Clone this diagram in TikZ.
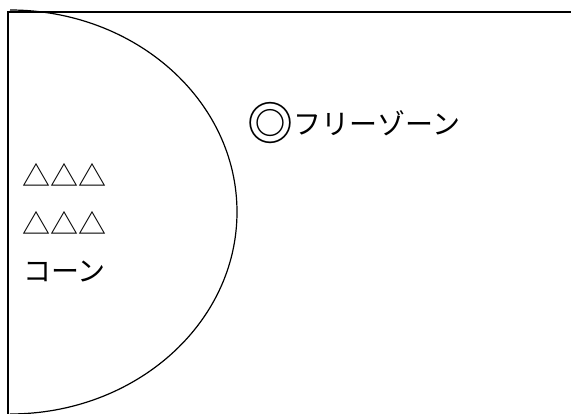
\documentclass[tikz,border=0pt]{standalone}
\usepackage{fontspec}
\newfontfamily\jpfont{Noto Sans CJK JP}
\usetikzlibrary{positioning}
\begin{document}
\begin{tikzpicture}[x=1pt,y=-1pt,
  jptext/.style={font=\jpfont\fontsize{28}{34}\selectfont, inner sep=0pt, anchor=west},
  bigsym/.style={font=\jpfont\fontsize{46}{52}\selectfont, inner sep=0pt, anchor=west},
  frameline/.style={line width=2pt},
  zoneline/.style={line width=1.2pt}
]
\useasboundingbox (0,0) rectangle (571,414);
% Frame
\draw[frameline] (8,414) -- (8,12) -- (571,12);
% Zone boundary
\draw[zoneline] (10,10) arc[start angle=-90, end angle=90, x radius=227, y radius=202];

% Labels inside the zone
\node[jptext] (tri1) at (22,175) {△△△};
\node[jptext] (tri2) at (22,223) {△△△};
\node[jptext] (cone) at (23,272) {コーン};

% Free zone label
\node[bigsym] (dmark) at (247,123) {◎};
\node[jptext, right=0pt of dmark] (free) {フリーゾーン};
\end{tikzpicture}
\end{document}
